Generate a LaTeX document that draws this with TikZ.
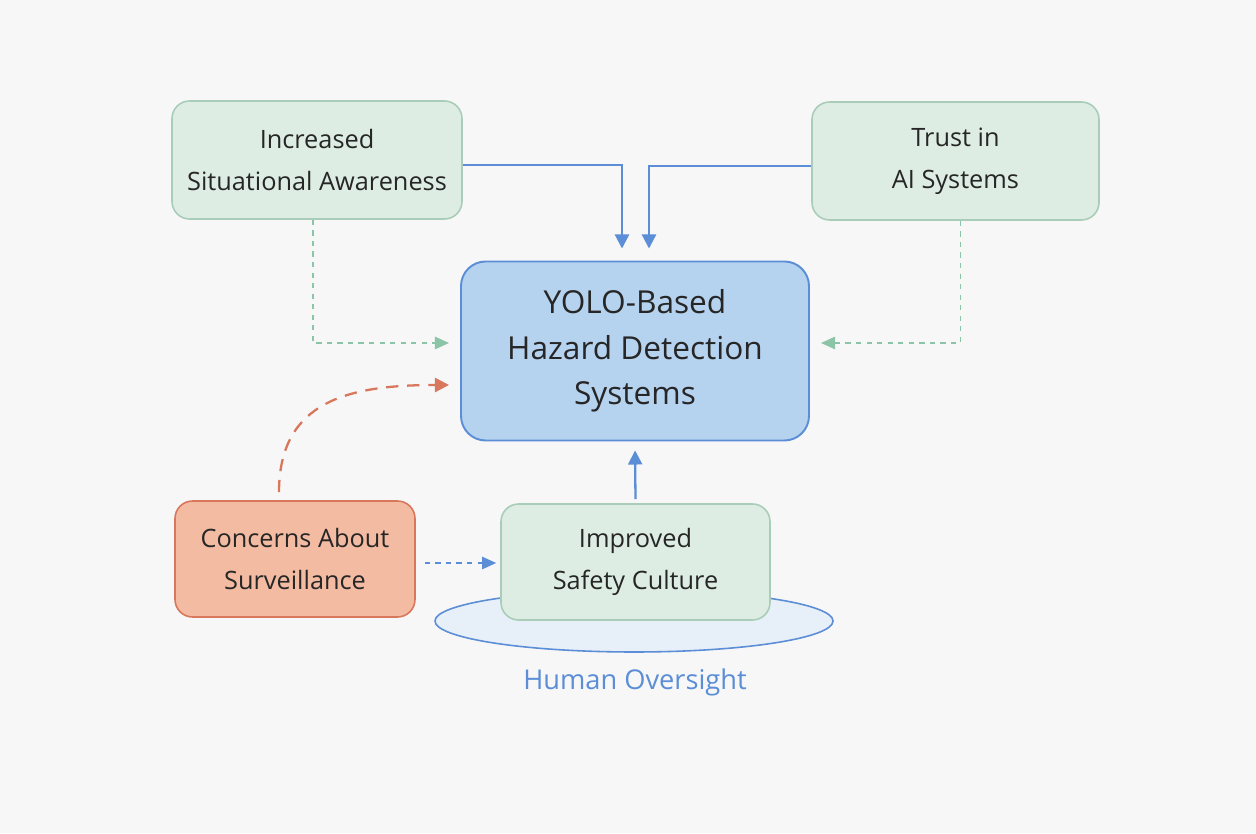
\documentclass[tikz,border=0pt]{standalone}
\usepackage{fontspec}
\setmainfont{Open Sans}
\usepackage{tikz}
\usetikzlibrary{arrows.meta, shapes.geometric}

\definecolor{bgcol}{HTML}{F7F7F7}
\definecolor{greenfill}{HTML}{DDEDE3}
\definecolor{greenline}{HTML}{A9CDB9}
\definecolor{greenarr}{HTML}{8CC4A8}
\definecolor{bluefill}{HTML}{B5D2EF}
\definecolor{blueline}{HTML}{5B8ED6}
\definecolor{redfill}{HTML}{F4BBA3}
\definecolor{redline}{HTML}{D9775C}
\definecolor{ovalfill}{HTML}{E7EFF8}
\definecolor{txt}{HTML}{262626}

\tikzset{
  factor/.style={draw=greenline, fill=greenfill, rounded corners=10pt, line width=0.9pt,
    align=center, text=txt, font=\fontsize{14.4}{24}\selectfont},
  core/.style={draw=blueline, fill=bluefill, rounded corners=14pt, line width=1.1pt,
    align=center, text=txt, font=\fontsize{18}{26}\selectfont},
  concern/.style={draw=redline, fill=redfill, rounded corners=10pt, line width=0.9pt,
    align=center, text=txt, font=\fontsize{14.4}{24}\selectfont},
  solidarr/.style={draw=blueline, line width=1.3pt, -{Triangle[width=8pt,length=8pt]}},
  softarr/.style={draw=greenarr, line width=0.9pt, dashed, -{Triangle[width=7pt,length=8pt]}},
}

\begin{document}
\begin{tikzpicture}
\fill[bgcol] (0,0) rectangle (25.12,16.66);
\useasboundingbox (0,0) rectangle (25.12,16.66);
%
\node[ellipse, draw=blueline, fill=ovalfill, line width=0.9pt,
  minimum width=7.96cm, minimum height=1.24cm] (oval) at (12.68,4.24) {};
\node[text=blueline, font=\fontsize{15.5}{18}\selectfont] (oversight) at (12.7,3.02) {Human Oversight};
%
\node[factor, minimum width=5.8cm, minimum height=2.36cm] (aware) at (6.34,13.46)
  {Increased\\Situational Awareness};
\node[factor, minimum width=5.74cm, minimum height=2.36cm] (trust) at (19.11,13.44)
  {Trust in\\AI Systems};
\node[core, minimum width=6.96cm, minimum height=3.58cm] (yolo) at (12.7,9.64)
  {YOLO-Based\\Hazard Detection\\Systems};
\node[concern, minimum width=4.8cm, minimum height=2.32cm] (concern) at (5.9,5.48)
  {Concerns About\\Surveillance};
\node[factor, minimum width=5.38cm, minimum height=2.32cm] (culture) at (12.71,5.42)
  {Improved\\Safety Culture};
%
\draw[solidarr, shorten >=0.24cm] ([yshift=-0.1cm]aware.east) -| ([xshift=-0.26cm]yolo.north);
\draw[solidarr, shorten >=0.24cm] ([yshift=-0.1cm]trust.west) -| ([xshift=0.28cm]yolo.north);
\draw[softarr, shorten >=0.22cm] ([xshift=-0.08cm]aware.south) |- ([yshift=0.16cm]yolo.west);
\draw[softarr, shorten >=0.22cm] ([xshift=0.1cm]trust.south) |- ([yshift=0.16cm]yolo.east);
\draw[draw=redline, line width=1.3pt, dash pattern=on 7pt off 5pt, -{Triangle[width=8pt,length=8pt]},
  shorten <=0.16cm, shorten >=0.22cm]
  ([xshift=-0.32cm]concern.north) .. controls +(0,2.0) and +(-2.2,0) .. ([yshift=-0.68cm]yolo.west);
\draw[draw=blueline, line width=0.9pt, dashed, -{Triangle[width=7pt,length=8pt]},
  shorten <=0.18cm, shorten >=0.08cm] ([yshift=-0.08cm]concern.east) -- ([yshift=-0.02cm]culture.west);
\draw[solidarr, shorten <=0.08cm, shorten >=0.18cm] (culture.north) -- (yolo.south);
\end{tikzpicture}
\end{document}
